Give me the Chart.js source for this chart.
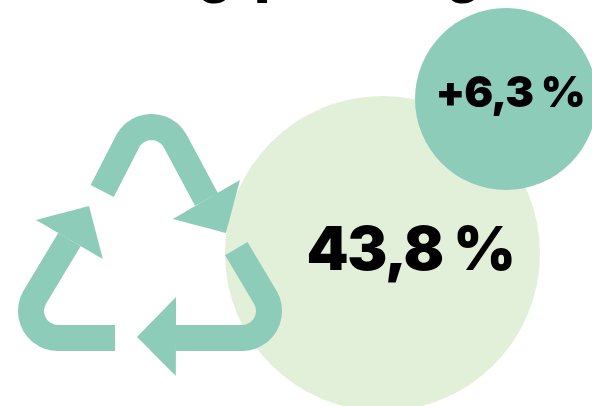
<!DOCTYPE html>
<html>
<head>
<meta charset="utf-8">
<script src="https://cdn.jsdelivr.net/npm/chart.js@4"></script>
<style>
  html, body { margin: 0; padding: 0; background: #fff; overflow: hidden; }
  canvas { display: block; }
</style>
</head>
<body>
<canvas id="grafica" width="592" height="406"></canvas>
<script>
const TEAL = "#8ECCBA";
const LIGHT = "#E2EFD9";

// circles
const bubbleX = [382.5, 506];
const bubbleY = [253.5, 99];
const bubbleR = [157.5, 91];

// numbers over the circles
const labels = ["43,8 %", "+6,3 %"];
const labelX = [410.5, 510];
const labelY = [251.5, 94.5];
const labelSize = [60, 43];
const labelSpacing = [-1.5, -1];

// what is left of the title above the top edge
const titleGlyphs = ["g", "p", "g"];
const titleX = [215, 271, 463.5];
const titleY = [-7, -7, -7];

// recycle icon, arrow shafts
const shaft1X = [115, 58, 53.3, 48.8, 44.5, 40.6, 37.3, 34.6, 32.6, 31.4, 31, 31.4, 32.6, 34.6, 69.5];
const shaft1Y = [338, 338, 337.6, 336.4, 334.4, 331.7, 328.4, 324.5, 320.2, 315.7, 311, 306.3, 301.8, 297.5, 239.5];
const shaft2X = [102.2, 128.1, 130.8, 134.1, 138, 142.3, 146.8, 151.5, 156.2, 160.7, 165, 168.9, 172.2, 174.9, 206.5];
const shaft2Y = [191, 140.5, 136.6, 133.3, 130.6, 128.6, 127.4, 127, 127.4, 128.6, 130.6, 133.3, 136.6, 140.5, 199.5];
const shaft3X = [176, 242, 246.7, 251.2, 255.5, 259.4, 262.7, 265.4, 267.4, 268.6, 269, 268.6, 267.4, 265.4, 236.3];
const shaft3Y = [338, 338, 337.6, 336.4, 334.4, 331.7, 328.4, 324.5, 320.2, 315.7, 311, 306.3, 301.8, 297.5, 248.7];

// recycle icon, arrow heads
const head1X = [89, 36, 103];
const head1Y = [206, 220, 259];
const head2X = [226, 240, 173];
const head2Y = [233, 180, 219];
const head3X = [137, 176, 176];
const head3Y = [337, 297, 376];

function puntos(xs, ys) {
  return xs.map((x, i) => ({ x: x, y: ys[i] }));
}

// tension above 0 so the line skips the fast path, which merges points on the same pixel column
function flecha(xs, ys) {
  return {
    type: "line",
    data: puntos(xs, ys),
    borderColor: TEAL,
    borderWidth: 26,
    borderCapStyle: "butt",
    borderJoinStyle: "round",
    pointRadius: 0,
    tension: 0.001,
    fill: false,
    order: 2
  };
}

function punta(xs, ys) {
  return {
    type: "line",
    data: puntos(xs.concat(xs[0]), ys.concat(ys[0])),
    borderColor: TEAL,
    backgroundColor: TEAL,
    borderWidth: 0,
    pointRadius: 0,
    tension: 0.001,
    fill: "shape",
    order: 2
  };
}

const textos = {
  id: "textos",
  afterDatasetsDraw(chart) {
    const c = chart.ctx;
    const sx = chart.scales.x;
    const sy = chart.scales.y;
    c.save();
    c.fillStyle = "#000";
    c.textBaseline = "middle";
    c.textAlign = "center";
    labels.forEach((txt, i) => {
      c.font = "900 " + labelSize[i] + "px Inter, sans-serif";
      c.letterSpacing = labelSpacing[i] + "px";
      c.fillText(txt, sx.getPixelForValue(labelX[i]), sy.getPixelForValue(labelY[i]));
    });
    c.letterSpacing = "0px";
    c.textBaseline = "alphabetic";
    c.font = "900 50px Inter, sans-serif";
    titleGlyphs.forEach((g, i) => {
      c.fillText(g, sx.getPixelForValue(titleX[i]), sy.getPixelForValue(titleY[i]));
    });
    c.restore();
  }
};

new Chart(document.getElementById("grafica").getContext("2d"), {
  data: {
    datasets: [
      {
        type: "bubble",
        data: [{ x: bubbleX[0], y: bubbleY[0], r: bubbleR[0] }],
        backgroundColor: LIGHT,
        borderWidth: 0,
        order: 3
      },
      flecha(shaft1X, shaft1Y),
      flecha(shaft2X, shaft2Y),
      flecha(shaft3X, shaft3Y),
      punta(head1X, head1Y),
      punta(head2X, head2Y),
      punta(head3X, head3Y),
      {
        type: "bubble",
        data: [{ x: bubbleX[1], y: bubbleY[1], r: bubbleR[1] }],
        backgroundColor: TEAL,
        borderWidth: 0,
        order: 1
      }
    ]
  },
  options: {
    responsive: false,
    animation: false,
    layout: { padding: 0, autoPadding: false },
    scales: {
      x: { type: "linear", min: 0, max: 592, display: false },
      y: { type: "linear", min: 0, max: 406, reverse: true, display: false }
    },
    plugins: { legend: { display: false }, tooltip: { enabled: false } }
  },
  plugins: [textos]
});
</script>
</body>
</html>
